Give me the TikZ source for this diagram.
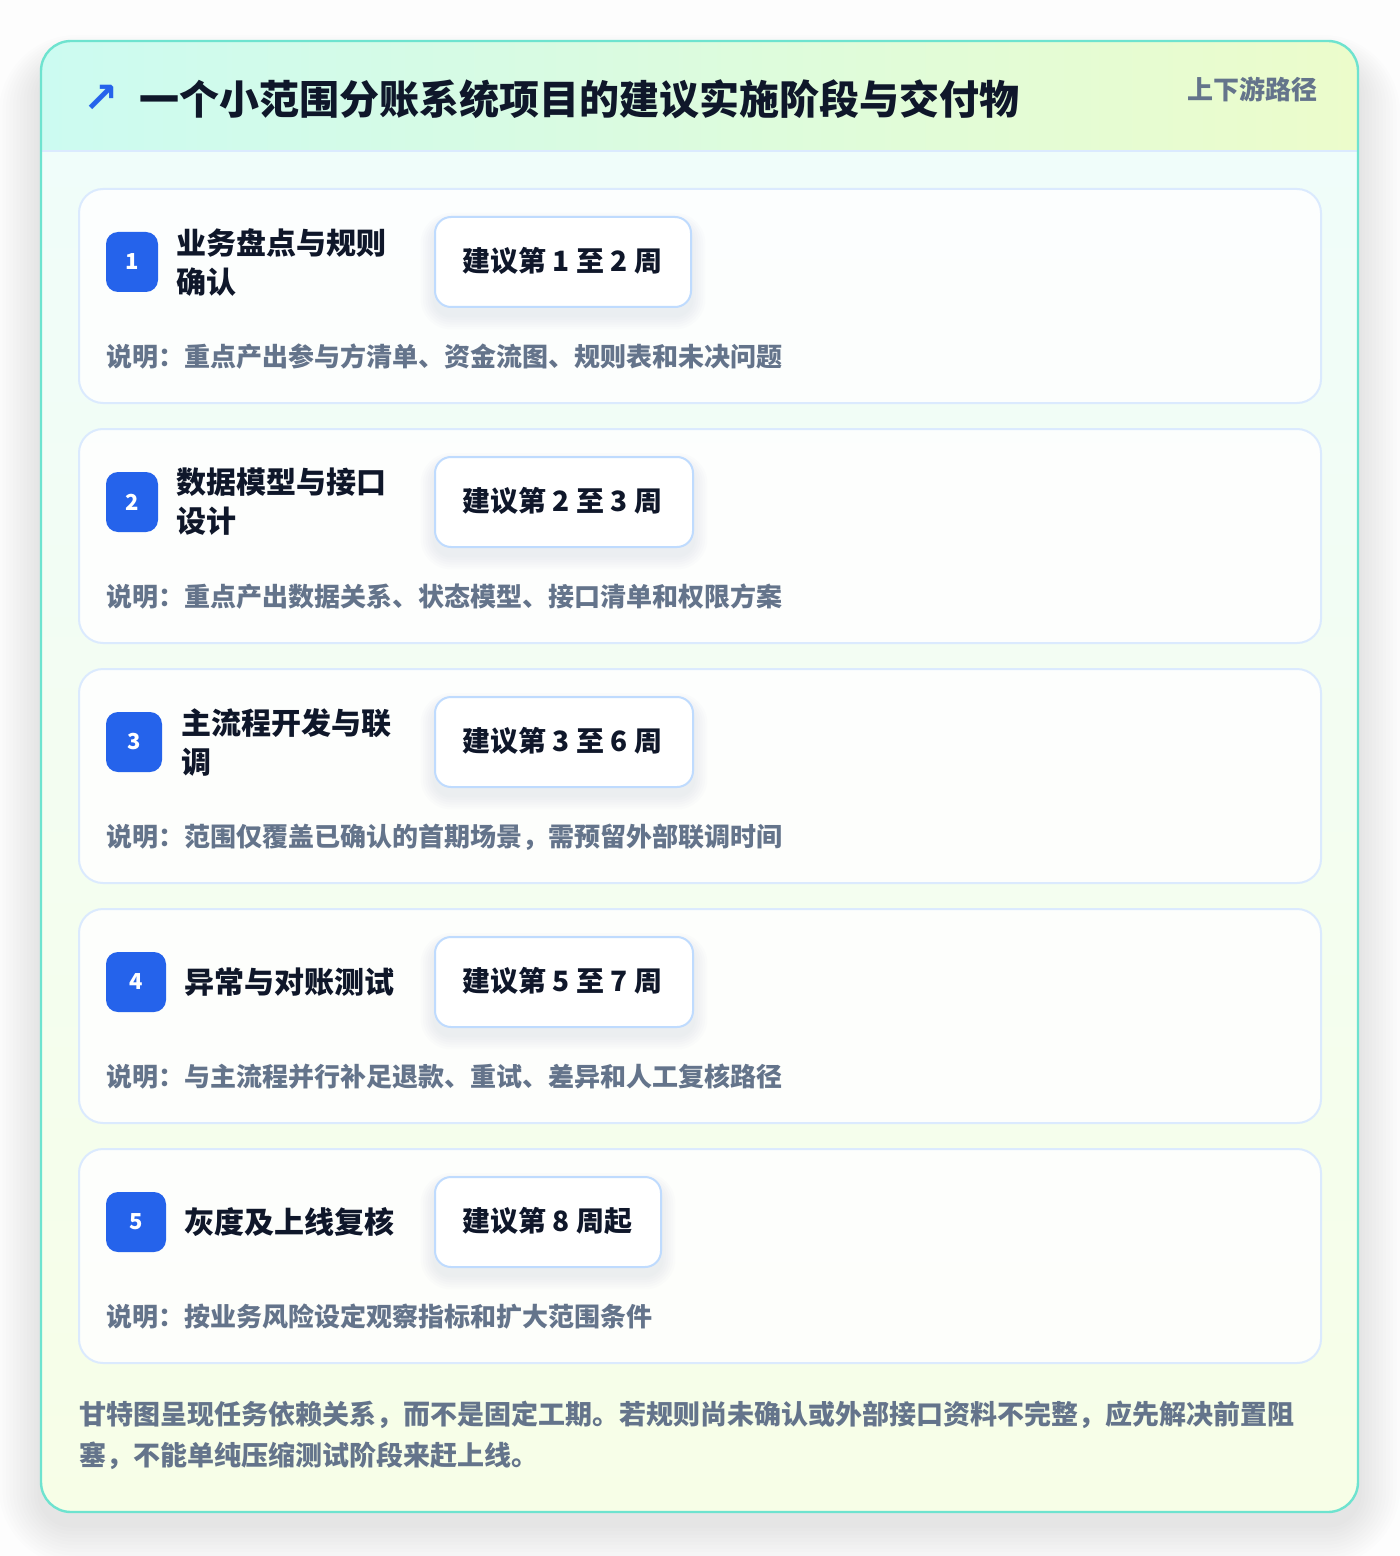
\documentclass[tikz,border=0pt]{standalone}
\usepackage{fontspec}
\setmainfont{Noto Sans CJK SC}
\newfontfamily\symfont{DejaVu Sans}
\definecolor{ink}{HTML}{0F172A}
\definecolor{muted}{HTML}{64748B}
\definecolor{accent}{HTML}{2563EB}
\definecolor{tealb}{HTML}{6EE3CF}
\definecolor{cardb}{HTML}{DBEAFE}
\definecolor{weekb}{HTML}{BFDBFE}
\definecolor{hdrl}{HTML}{CCFBF1}
\definecolor{hdrr}{HTML}{ECFCCB}
\definecolor{bodytop}{HTML}{F0FDFA}
\definecolor{bodybot}{HTML}{F7FEE7}
\definecolor{pagebg}{HTML}{FDFDFD}
\definecolor{shadowc}{HTML}{64748B}
\tikzset{
  cardbox/.style={draw=cardb, line width=1pt, fill=white, fill opacity=0.85, rounded corners=12pt},
  badgebox/.style={fill=accent, rounded corners=6pt},
  weekbox/.style={draw=weekb, line width=1pt, fill=white, rounded corners=8pt},
  numtext/.style={text=white, font=\bfseries\fontsize{11}{13}\selectfont, inner sep=0pt},
  phasetitle/.style={anchor=west, text=ink, align=left, inner sep=0pt, font=\bfseries\fontsize{15}{19.5}\selectfont},
  weektext/.style={anchor=west, text=ink, inner sep=0pt, font=\bfseries\fontsize{14}{16}\selectfont},
  desctext/.style={anchor=west, text=muted, inner sep=0pt, font=\bfseries\fontsize{13}{15}\selectfont},
}
% #1 y0, #2 number, #3 badge width, #4 title, #5 title x, #6 week text, #7 week width, #8 desc, #9 id
\newcommand\phasecard[9]{%
  \path[cardbox] (79,#1) rectangle (1321,#1+214);
  \path[badgebox] (106,#1+43) rectangle (106+#3,#1+103);
  \node[numtext] (n#9) at (106+#3/2,#1+73) {#2};
  \node[phasetitle] (t#9) at (#5,#1+73) {#4};
  \foreach \k in {1,...,6}{
    \fill[shadowc, opacity=0.016, rounded corners={8pt+\k*1.2pt}] (435-\k*2.4,#1+28+8-\k*2) rectangle (435+#7+\k*2.4,#1+118+8+\k*2.4);
  }
  \path[weekbox] (435,#1+28) rectangle (435+#7,#1+118);
  \node[weektext] (w#9) at (462,#1+72) {#6};
  \node[desctext] (d#9) at (106,#1+168) {#8};
}
\begin{document}
\begin{tikzpicture}[x=0.5pt,y=-0.5pt]
\useasboundingbox (0,0) rectangle (1400,1556);
\fill[pagebg] (0,0) rectangle (1400,1556);
% outer soft shadow
\foreach \k in {1,...,12}{
  \fill[shadowc, opacity=0.011, rounded corners={15pt+\k*2pt}] (41-\k*3.5,41+24-\k*2.5) rectangle (1358+\k*3.5,1512+12+\k*3.5);
}
\begin{scope}
  \clip[rounded corners=15pt] (41,41) rectangle (1358,1512);
  \fill[white] (41,41) rectangle (1358,1512);
  \shade[top color=bodytop, bottom color=bodybot] (41,151) rectangle (1358,1512);
  \shade[left color=hdrl, right color=hdrr] (41,41) rectangle (1358,151);
\end{scope}
\draw[cardb, line width=1pt] (41,151) -- (1358,151);
\draw[tealb, line width=1.2pt, rounded corners=15pt] (41,41) rectangle (1358,1512);
% header
\node[text=accent, inner sep=0pt, font=\symfont\bfseries\fontsize{21}{24}\selectfont] (icon) at (101,99) {↗};
\node[anchor=west, inner sep=0pt, text=ink, font=\bfseries\fontsize{20}{24}\selectfont] (title) at (139,99) {一个小范围分账系统项目的建议实施阶段与交付物};
\node[anchor=east, inner sep=0pt, text=muted, font=\bfseries\fontsize{13}{15}\selectfont] (tag) at (1318,89) {上下游路径};
% phases
\phasecard{189}{1}{52}{业务盘点与规则\\确认}{176}{建议第 1 至 2 周}{256}{说明：重点产出参与方清单、资金流图、规则表和未决问题}{a}
\phasecard{429}{2}{52}{数据模型与接口\\设计}{176}{建议第 2 至 3 周}{258}{说明：重点产出数据关系、状态模型、接口清单和权限方案}{b}
\phasecard{669}{3}{56}{主流程开发与联\\调}{181}{建议第 3 至 6 周}{258}{说明：范围仅覆盖已确认的首期场景，需预留外部联调时间}{c}
\phasecard{909}{4}{60}{异常与对账测试}{184}{建议第 5 至 7 周}{258}{说明：与主流程并行补足退款、重试、差异和人工复核路径}{d}
\phasecard{1149}{5}{60}{灰度及上线复核}{184}{建议第 8 周起}{226}{说明：按业务风险设定观察指标和扩大范围条件}{e}
% footer
\node[anchor=north west, inner sep=0pt, text=muted, align=left, font=\bfseries\fontsize{13.5}{20.5}\selectfont] (foot) at (79,1401) {甘特图呈现任务依赖关系，而不是固定工期。若规则尚未确认或外部接口资料不完整，应先解决前置阻\\塞，不能单纯压缩测试阶段来赶上线。};
\end{tikzpicture}
\end{document}
